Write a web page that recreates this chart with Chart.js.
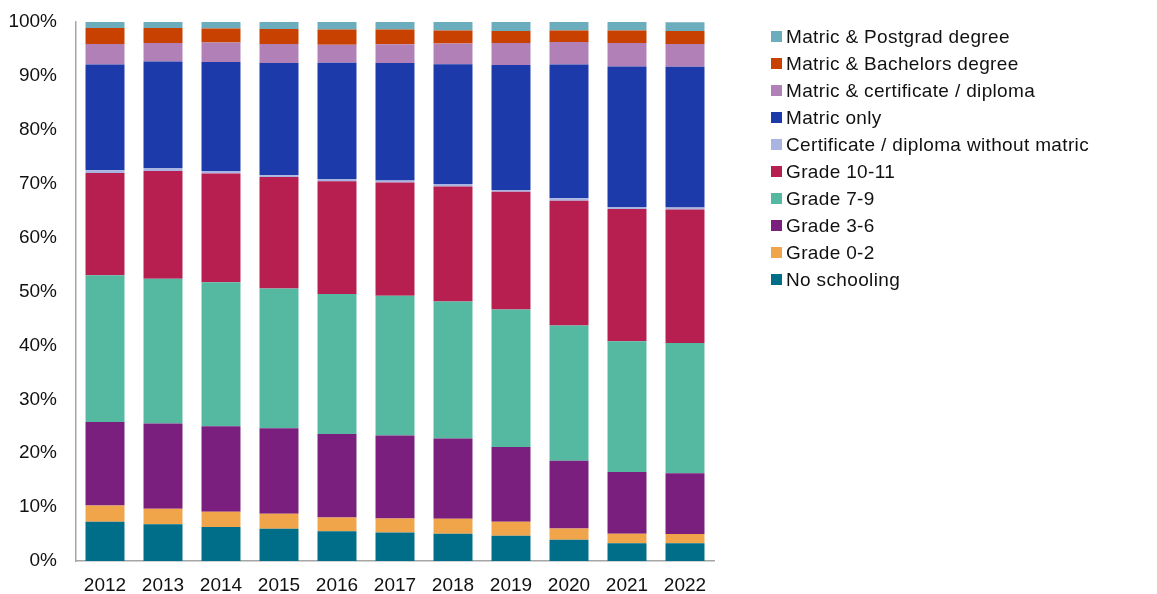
<!DOCTYPE html>
<html>
<head>
<meta charset="utf-8">
<script src="https://cdn.jsdelivr.net/npm/chart.js@4/dist/chart.umd.min.js"></script>
<style>
  html, body { margin: 0; padding: 0; background: #fff; }
  #wrap { position: relative; width: 1157px; height: 594px; }
  #eduChart { position: absolute; left: 0; top: 0; }
  #legend {
    position: absolute; left: 771px; top: 23px;
    font-family: "Liberation Sans", Arial, sans-serif; font-size: 19px; letter-spacing: 0.35px; color: #111;
  }
  #legend .row { height: 27px; display: flex; align-items: center; white-space: nowrap; }
  #legend .box { width: 11px; height: 11px; margin-right: 4px; flex: none; }
</style>
</head>
<body>
<div id="wrap">
  <canvas id="eduChart" width="1157" height="594"></canvas>
  <div id="legend"></div>
</div>
<script>
// share of population by highest education level, % per year
const years = ["2012", "2013", "2014", "2015", "2016", "2017", "2018", "2019", "2020", "2021", "2022"];

const noSchooling   = [7.3, 6.8, 6.3, 6.0, 5.5, 5.3, 5.05, 4.7, 3.95, 3.3, 3.3];
const grade0to2     = [3.0, 2.9, 2.85, 2.75, 2.55, 2.6, 2.8, 2.6, 2.1, 1.75, 1.7];
const grade3to6     = [15.5, 15.8, 15.85, 15.9, 15.5, 15.4, 14.9, 13.85, 12.55, 11.45, 11.3];
const grade7to9     = [27.2, 26.85, 26.7, 25.9, 26.0, 25.9, 25.4, 25.5, 25.1, 24.25, 24.15];
const grade10to11   = [19.0, 20.0, 20.2, 20.7, 20.9, 21.0, 21.35, 21.85, 23.15, 24.55, 24.75];
const certNoMatric  = [0.5, 0.55, 0.45, 0.3, 0.4, 0.4, 0.45, 0.35, 0.45, 0.4, 0.4];
const matricOnly    = [19.6, 19.75, 20.25, 20.85, 21.6, 21.8, 22.2, 23.15, 24.8, 26.05, 26.1];
const matricCert    = [3.8, 3.45, 3.6, 3.5, 3.35, 3.45, 3.85, 4.1, 4.2, 4.35, 4.2];
const matricBach    = [3.0, 2.8, 2.6, 2.8, 2.8, 2.75, 2.4, 2.25, 2.1, 2.3, 2.45];
const matricPostgrad = [1.1, 1.1, 1.3, 1.3, 1.4, 1.5, 1.6, 1.65, 1.6, 1.6, 1.6];

const yTicks = [0, 10, 20, 30, 40, 50, 60, 70, 80, 90, 100];

const FONT = "'Liberation Sans', Arial, sans-serif";

function ds(label, data, color) {
  return { label: label, data: data, backgroundColor: color, borderWidth: 0,
           barPercentage: 0.672, categoryPercentage: 1.0 };
}

const datasets = [
  ds("No schooling", noSchooling, "#006d89"),
  ds("Grade 0-2", grade0to2, "#f0a54b"),
  ds("Grade 3-6", grade3to6, "#7a1f7e"),
  ds("Grade 7-9", grade7to9, "#54b9a0"),
  ds("Grade 10-11", grade10to11, "#b71f50"),
  ds("Certificate / diploma without matric", certNoMatric, "#aab4e0"),
  ds("Matric only", matricOnly, "#1c3aaa"),
  ds("Matric & certificate / diploma", matricCert, "#b080b7"),
  ds("Matric & Bachelors degree", matricBach, "#c84100"),
  ds("Matric & Postgrad degree", matricPostgrad, "#6badbc")
];

const chart = new Chart(document.getElementById("eduChart"), {
  type: "bar",
  data: { labels: years, datasets: datasets },
  options: {
    responsive: false,
    animation: false,
    layout: { padding: { left: 0, top: 22, right: 443, bottom: 0 } },
    plugins: { legend: { display: false }, tooltip: { enabled: false } },
    scales: {
      x: {
        stacked: true,
        grid: { display: false, drawTicks: false },
        border: { display: true, color: "#a6a6a6", width: 1.5 },
        ticks: { color: "#111", font: { family: FONT, size: 19 }, padding: 13, maxRotation: 0 },
        afterFit: s => { s.height = 33; s.paddingLeft = 0; s.paddingRight = 0; }
      },
      y: {
        stacked: true,
        min: 0, max: 100,
        afterBuildTicks: s => { s.ticks = yTicks.map(v => ({ value: v })); },
        grid: { display: false, drawTicks: false },
        border: { display: true, color: "#a6a6a6", width: 1.5 },
        ticks: { color: "#111", font: { family: FONT, size: 19 }, padding: 19,
                 callback: v => v + "%" },
        afterFit: s => { s.width = 76; s.paddingTop = 0; s.paddingBottom = 0; }
      }
    }
  }
});

// legend, top to bottom in reverse stacking order
const legendEl = document.getElementById("legend");
chart.data.datasets.slice().reverse().forEach(d => {
  const row = document.createElement("div");
  row.className = "row";
  const box = document.createElement("span");
  box.className = "box";
  box.style.background = d.backgroundColor;
  const txt = document.createElement("span");
  txt.textContent = d.label;
  row.appendChild(box);
  row.appendChild(txt);
  legendEl.appendChild(row);
});
</script>
</body>
</html>
